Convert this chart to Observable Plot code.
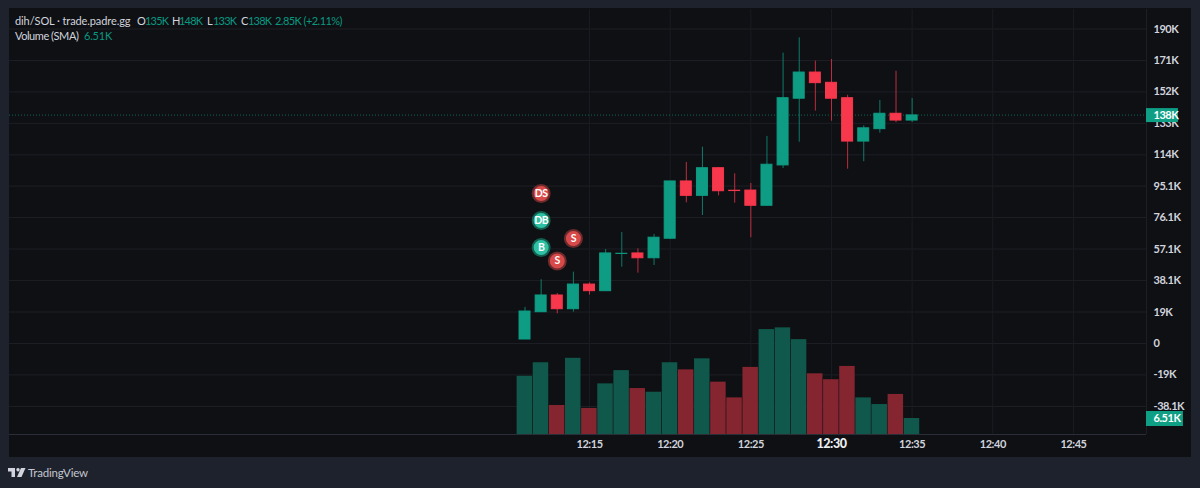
<!DOCTYPE html>
<html>
<head>
<meta charset="utf-8">
<script src="https://cdn.jsdelivr.net/npm/d3@7"></script>
<script src="https://cdn.jsdelivr.net/npm/@observablehq/plot@0.6"></script>
<style>
html,body{margin:0;padding:0;width:1200px;height:488px;overflow:hidden;background:#1e222d;font-family:Lato,sans-serif;}
#panel{position:absolute;left:9px;top:8px;width:1182px;height:449px;background:#0f1014;}
#chart{position:absolute;left:0;top:0;}
#chart svg{background:transparent;display:block;letter-spacing:-.45px;}
.h{position:absolute;font-size:11px;line-height:14px;color:#d1d4dc;white-space:nowrap;letter-spacing:-.1px;}
.g{color:#089981;letter-spacing:-.8px;}
#logo{position:absolute;left:8px;top:468px;width:18px;height:9px;background:#d1d4dc;
clip-path:path("M0 0H7V9H3.5V3.5H0Z M10 0a1.7 1.7 0 1 0 .01 0Z M13 0H17.5L13.5 9H9Z");}
#tv{position:absolute;left:28px;top:465px;font-size:11.5px;line-height:16px;color:#c3c6ce;letter-spacing:-.2px;}
</style>
</head>
<body>
<div id="panel"></div>
<div id="chart"></div>
<span class="h" style="left:15px;top:14px">dih/SOL · trade.padre.gg</span>
<span class="h" style="left:137px;top:14px">O</span><span class="h g" style="left:145px;top:14px">135K</span>
<span class="h" style="left:172px;top:14px">H</span><span class="h g" style="left:179px;top:14px">148K</span>
<span class="h" style="left:207px;top:14px">L</span><span class="h g" style="left:213px;top:14px">133K</span>
<span class="h" style="left:241px;top:14px">C</span><span class="h g" style="left:248px;top:14px">138K</span>
<span class="h g" style="left:275px;top:14px;letter-spacing:-.55px">2.85K (+2.11%)</span>
<span class="h" style="left:15px;top:29px;letter-spacing:-.45px">Volume (SMA)</span><span class="h g" style="left:84px;top:29px;letter-spacing:-.2px">6.51K</span>
<div id="logo"></div>
<div id="tv">TradingView</div>
<script>
// minutes past 12:00
const minutes = [11,12,13,14,15,16,17,18,19,20,21,22,23,24,25,26,27,28,29,30,31,32,33,34,35];
// prices in thousands
const opens  = [2.4,18.9,29,20.7,35.6,31.6,54.1,54.4,51.5,63.3,97.9,89.2,105.9,92.3,92.4,83.2,107.6,147.9,163.7,157.5,148.2,122,129.5,138.8,134.7];
const highs  = [21.8,38.5,30.2,43.1,36.7,56.8,67.1,57.2,65.9,97.9,109.4,118.6,106.3,102.5,96.7,125.1,175.4,184.7,170.6,171.6,150,131.5,146.8,164.5,148];
const lows   = [2.4,18.9,17.9,18.9,29.2,31.6,46.1,42.5,47.1,62.8,85,77.3,89.2,84.8,63.9,83.2,105.7,121.6,140.4,134.3,105.3,109.8,127.1,133.4,133.4];
const closes = [19.3,29,20.7,35.6,31.6,54.4,54.2,51.5,63.9,97.9,89.2,105.9,92,92.1,83.2,108,148.2,163.7,157.3,147.9,122,130,138.8,134.7,137.8];
const volumes = [23.7,29.2,11.8,31,10.6,20.6,26,18.7,17.2,29.2,26.3,30.8,21.3,14.9,27.3,42.7,43.4,38.6,24.7,22.3,27.7,14.9,12.2,16.3,6.51];
const priceTicks = [190,171,152,133,114,95.1,76.1,57.1,38.1,19,0,-19,-38.1];
const priceLabels = ["190K","171K","152K","133K","114K","95.1K","76.1K","57.1K","38.1K","19K","0","-19K","-38.1K"];
const timeTicks = [15,20,25,35,40,45];
const timeLabels = ["12:15","12:20","12:25","12:35","12:40","12:45"];
const boldTick = [30];
const boldLabel = ["12:30"];
const gridTimes = [15,20,25,30,35,40,45];
const markerLabels = ["DS","DB","B","S","S"];
const markerMinutes = [12,12,12,14,13];
const markerPrices = [90.6,74.3,58,63.4,49.8];
const lastPrice = 138, lastVolume = 6.51;

const xDomain = [-20.96,49.53];
const yDomain = [-55,201.8];
const volumeFactor = 1.485; // price units per 1K of volume on the overlaid pane
const volY = v => yDomain[0] + v*volumeFactor;
const GREEN="#0e9d84", RED="#f7374c", VGREEN="#0f584b", VRED="#852530";

const candles = minutes.map((m,i)=>({m,o:opens[i],h:highs[i],l:lows[i],c:closes[i],v:volumes[i],up:closes[i]>=opens[i]}));
const markers = markerLabels.map((t,i)=>({t,m:markerMinutes[i],p:markerPrices[i],buy:t.endsWith("B")}));
const tickFont = 'Lato,sans-serif';
const lab = (vals,labels)=>d=>labels[vals.indexOf(d)];

const plot = Plot.plot({
  width:1200,height:488,
  marginLeft:9,marginRight:54,marginTop:9,marginBottom:54,
  style:{background:"transparent",fontFamily:tickFont},
  x:{domain:xDomain,label:null},
  y:{domain:yDomain,label:null},
  marks:[
    Plot.ruleY(priceTicks,{y:d=>d,stroke:"#1d1f25",strokeWidth:1}),
    Plot.ruleX(gridTimes,{x:d=>d,stroke:"#1a1c22",strokeWidth:1}),
    Plot.ruleY([yDomain[0]],{stroke:"#2a2e39",strokeWidth:1}),
    Plot.ruleX([xDomain[1]],{stroke:"#1d1f25",strokeWidth:1}),
    Plot.ruleY([lastPrice],{stroke:"#0a6a5a",strokeWidth:1,strokeDasharray:"1,2"}),
    Plot.rect(candles,{x1:d=>d.m-0.49,x2:d=>d.m+0.47,y1:yDomain[0],y2:d=>volY(d.v),fill:d=>d.up?VGREEN:VRED}),
    Plot.ruleX(candles,{x:"m",y1:"l",y2:"h",stroke:d=>d.up?GREEN:RED,strokeWidth:1,strokeOpacity:0.75}),
    Plot.rect(candles,{x1:d=>d.m-0.34,x2:d=>d.m+0.34,y1:"o",y2:"c",fill:d=>d.up?GREEN:RED,stroke:d=>d.up?GREEN:RED,strokeWidth:1}),
    Plot.dot(markers,{x:"m",y:"p",r:8.5,fill:d=>d.buy?"#2fc1a5":"#d84a4a",stroke:d=>d.buy?"#11604f":"#6d2a2d",strokeWidth:2}),
    Plot.text(markers,{x:"m",y:"p",text:"t",fill:"#fff",fontSize:10.5,fontWeight:700}),
    Plot.axisY(priceTicks,{anchor:"right",tickSize:0,tickPadding:7,tickFormat:lab(priceTicks,priceLabels),fill:"#d1d4dc",fontSize:11,fontWeight:700,label:null}),
    Plot.axisX(timeTicks,{anchor:"bottom",tickSize:0,tickPadding:6,tickFormat:lab(timeTicks,timeLabels),fill:"#d1d4dc",fontSize:11,fontWeight:700,label:null}),
    Plot.axisX(boldTick,{anchor:"bottom",tickSize:0,tickPadding:5,tickFormat:lab(boldTick,boldLabel),fill:"#eceef2",fontSize:12.5,fontWeight:900,label:null}),
    Plot.ruleY([lastPrice],{x1:xDomain[1],x2:xDomain[1]+1.98,stroke:"#0f9f85",strokeWidth:14}),
    Plot.text([lastPrice],{x:xDomain[1],y:d=>d,text:d=>d+"K",textAnchor:"start",dx:7,fill:"#fff",fontSize:11,fontWeight:700}),
    Plot.ruleY([volY(lastVolume)],{x1:xDomain[1],x2:xDomain[1]+2.29,stroke:"#0f9f85",strokeWidth:15}),
    Plot.text([lastVolume],{x:xDomain[1],y:volY,text:d=>d+"K",textAnchor:"start",dx:7,fill:"#fff",fontSize:11,fontWeight:700})
  ]
});
document.getElementById("chart").appendChild(plot);
</script>
</body>
</html>
